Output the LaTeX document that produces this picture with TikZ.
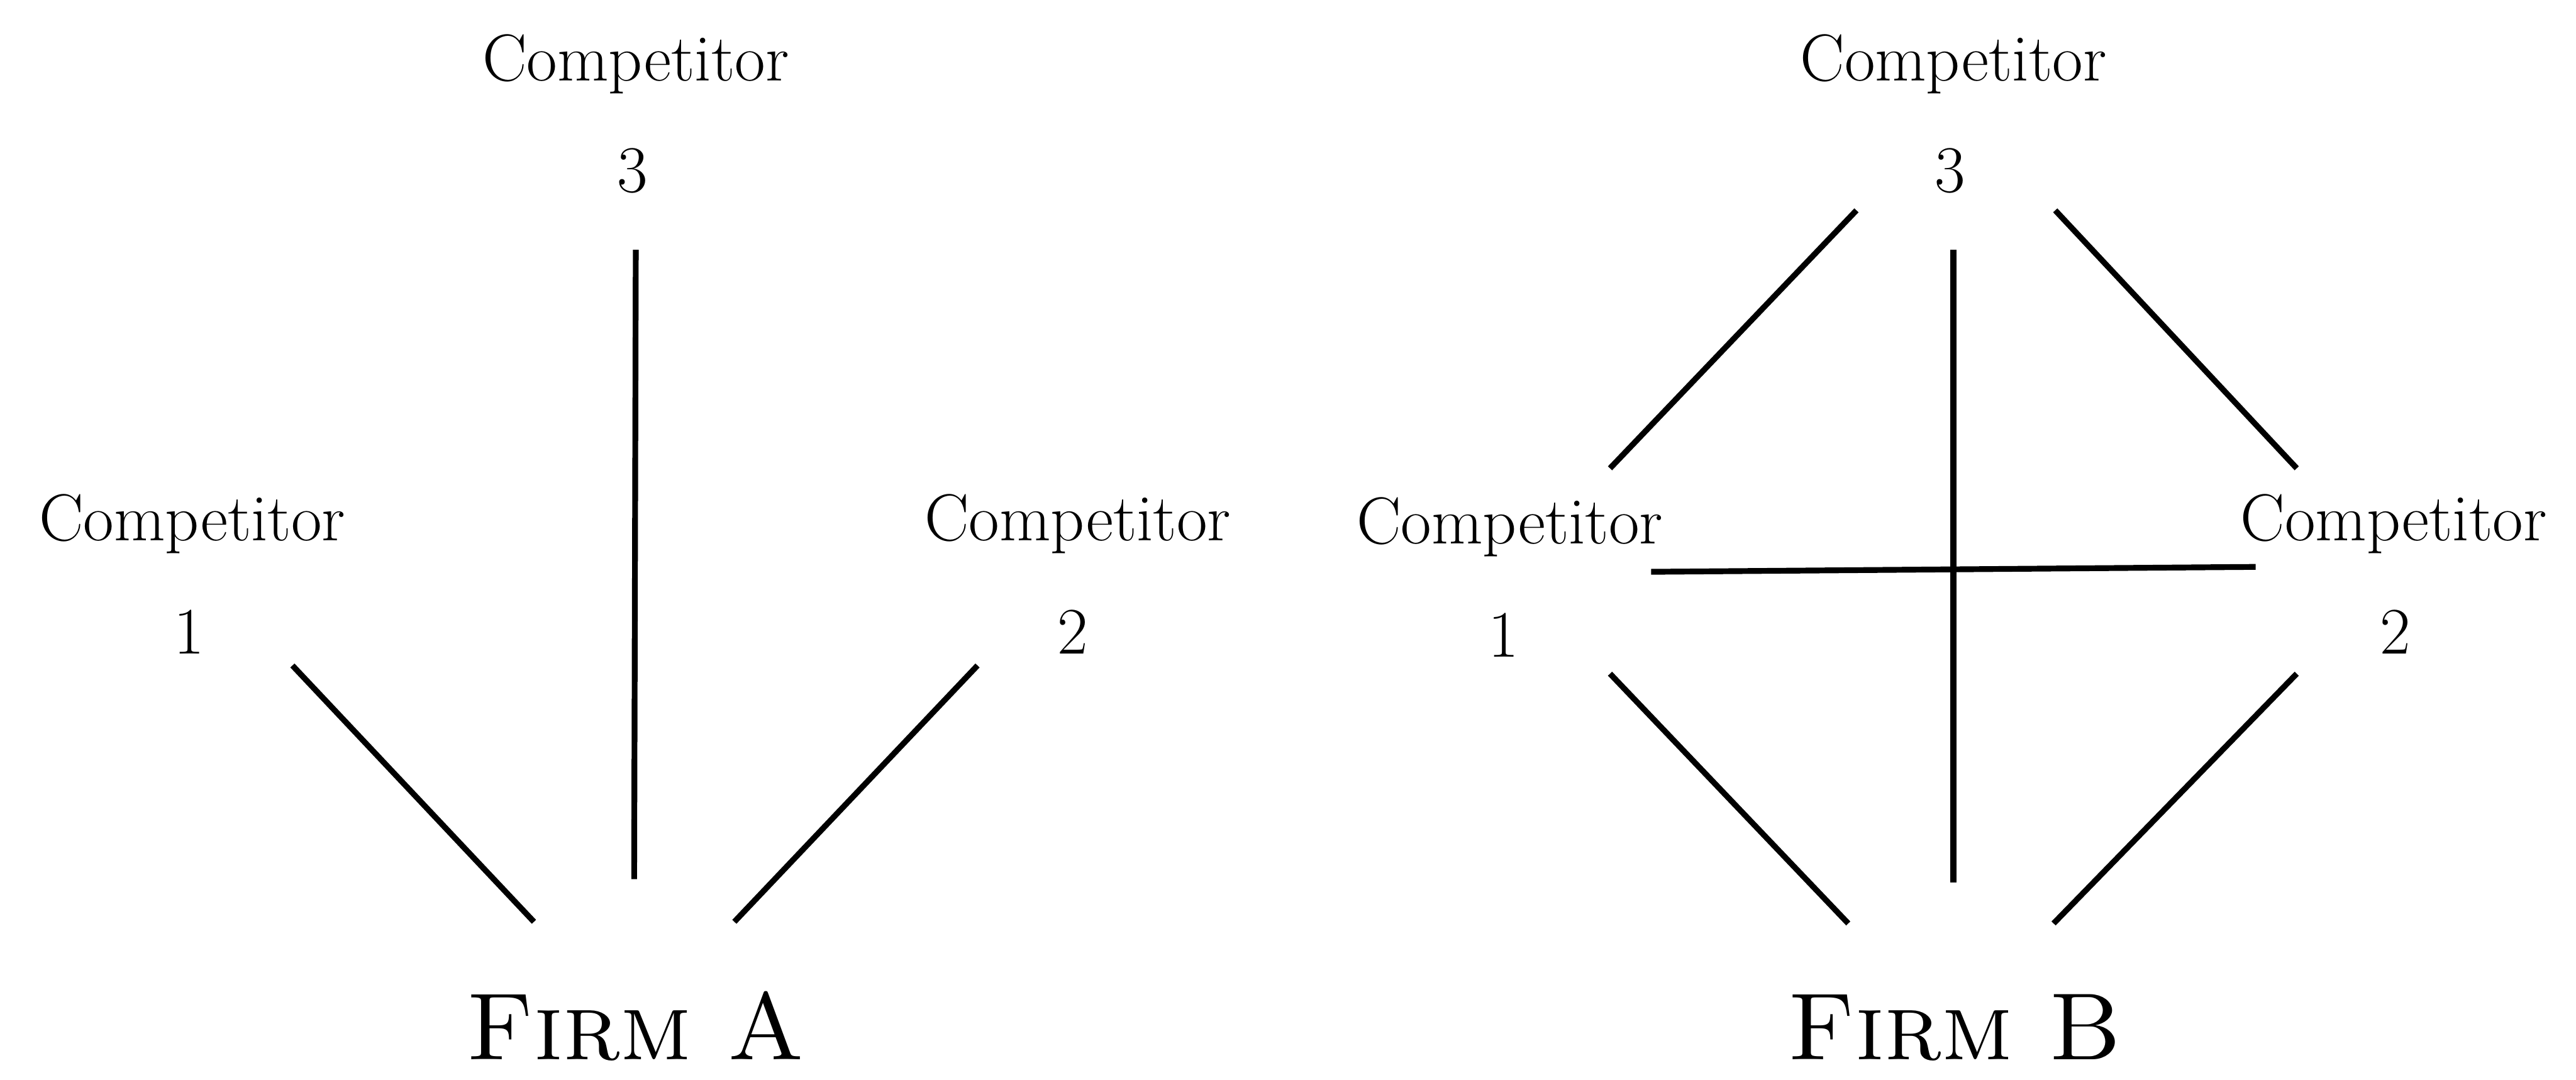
\documentclass[tikz,border=0pt]{standalone}
\begin{document}
\begin{tikzpicture}[x=0.02cm,y=-0.02cm,
  lab/.style={anchor=base,inner sep=0pt,font=\fontsize{23}{28}\selectfont},
  firm/.style={anchor=base,inner sep=0pt,font=\fontsize{33}{40}\selectfont},
  link/.style={line width=2pt}]
\useasboundingbox (0,0) rectangle (1568,657);
% Firm A
\node[lab] (a3) at (387,49) {Competitor};
\node[lab] (a3n) at (385,117) {3};
\node[lab] (a1) at (117,329) {Competitor};
\node[lab] (a1n) at (115,398) {1};
\node[lab] (a2) at (656,329) {Competitor};
\node[lab] (a2n) at (653,398) {2};
\node[firm] (fa) at (387,645) {\textsc{Firm A}};
\coordinate (a3s) at (387,152); \coordinate (a3e) at (386,535);
\coordinate (a1s) at (178,405); \coordinate (a1e) at (325,561);
\coordinate (a2s) at (595,405); \coordinate (a2e) at (447,561);
\draw[link] (a3s) -- (a3e);
\draw[link] (a1s) -- (a1e);
\draw[link] (a2s) -- (a2e);
% Firm B
\node[lab] (b3) at (1189,49) {Competitor};
\node[lab] (b3n) at (1187,117) {3};
\node[lab] (b1) at (919,331) {Competitor};
\node[lab] (b1n) at (915,400) {1};
\node[lab] (b2) at (1457,329) {Competitor};
\node[lab] (b2n) at (1458,398) {2};
\node[firm] (fb) at (1190,645) {\textsc{Firm B}};
\coordinate (b3s) at (1189,152); \coordinate (b3e) at (1189,537);
\coordinate (b31s) at (1130,128); \coordinate (b31e) at (980,285);
\coordinate (b32s) at (1251,128); \coordinate (b32e) at (1398,285);
\coordinate (b12s) at (1005,348); \coordinate (b12e) at (1373,345);
\coordinate (b1s) at (980,410); \coordinate (b1e) at (1125,562);
\coordinate (b2s) at (1398,410); \coordinate (b2e) at (1250,562);
\draw[link] (b3s) -- (b3e);
\draw[link] (b31s) -- (b31e);
\draw[link] (b32s) -- (b32e);
\draw[link] (b12s) -- (b12e);
\draw[link] (b1s) -- (b1e);
\draw[link] (b2s) -- (b2e);
\end{tikzpicture}
\end{document}
